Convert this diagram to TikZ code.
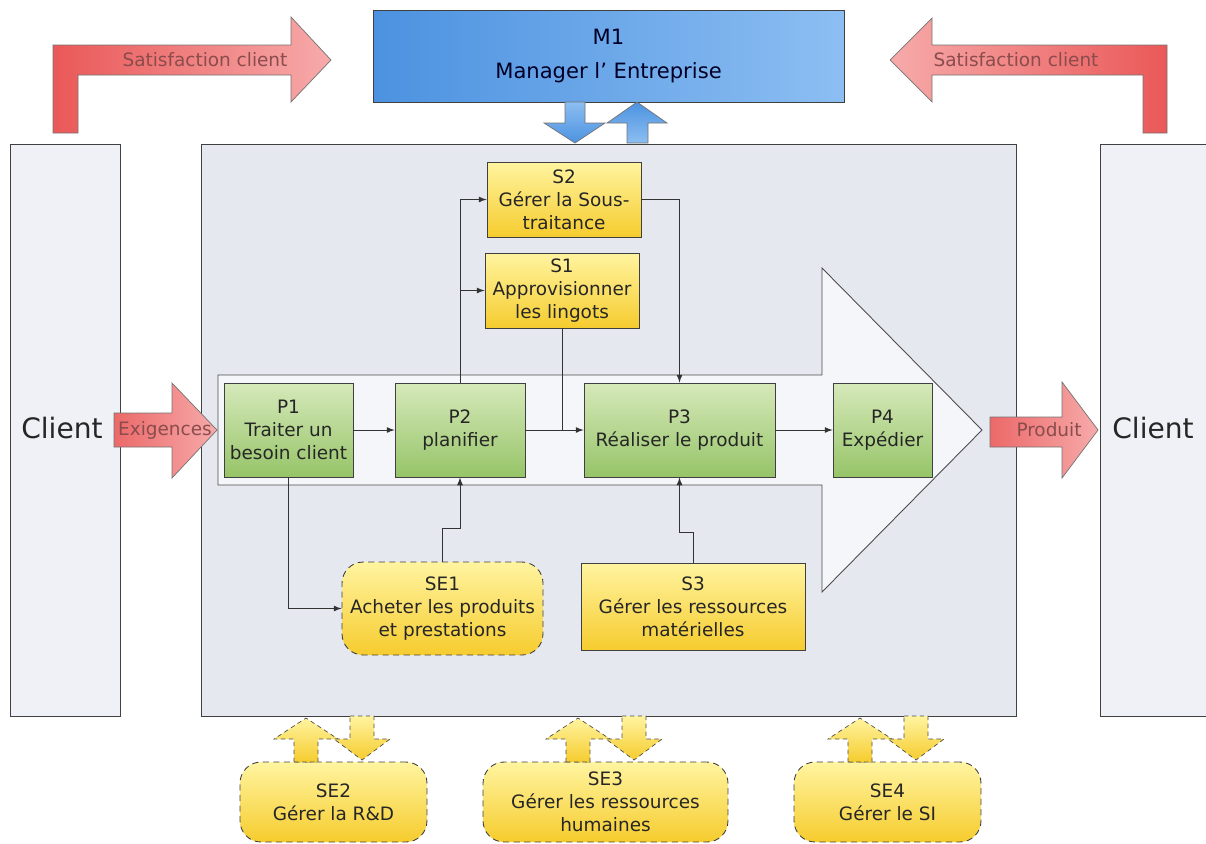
\documentclass[tikz,border=0pt]{standalone}
\usepackage{fontspec}
\setmainfont{DejaVu Sans}
\usepackage{tikz}
\usetikzlibrary{positioning}
\definecolor{framegray}{RGB}{230,232,239}
\definecolor{clientgray}{RGB}{240,241,246}
\definecolor{bandwhite}{RGB}{245,246,250}
\definecolor{greenT}{RGB}{214,233,186}
\definecolor{greenB}{RGB}{150,196,104}
\definecolor{yellowT}{RGB}{255,244,160}
\definecolor{yellowB}{RGB}{246,204,46}
\definecolor{blueD}{RGB}{76,146,224}
\definecolor{blueL}{RGB}{140,190,242}
\definecolor{redD}{RGB}{234,88,88}
\definecolor{redL}{RGB}{247,170,170}
\definecolor{redtext}{RGB}{138,76,76}

\begin{document}
\begin{tikzpicture}[x=0.02cm,y=-0.02cm,
box/.style={draw=black!75,line width=0.5pt,inner sep=1pt,align=center,text=black!85,
    font=\fontsize{10.5}{13}\selectfont},
pbox/.style={box,top color=greenT,bottom color=greenB,minimum height=1.88cm},
sbox/.style={box,top color=yellowT,bottom color=yellowB},
sebox/.style={sbox,dash pattern=on 3.5pt off 2.5pt,rounded corners=12pt},
link/.style={draw=black!80,line width=0.55pt},
flow/.style={link,->,>=latex},
fat/.style={draw=black!55,line width=0.4pt},
yarrow/.style={fat,draw=black!70,dash pattern=on 2.5pt off 2pt,top color=yellowT,bottom color=yellowB},
lbl/.style={text=redtext,font=\fontsize{10.5}{13}\selectfont},
column/.style={draw=black!75,line width=0.5pt,minimum width=2.2cm,minimum height=11.44cm}]
\useasboundingbox (0,0) rectangle (1206,843);

\node (clientl) [column,fill=clientgray] at (65,430) {};
\node (clientr) [column,fill=clientgray,minimum width=2.24cm] at (1156,430) {};
\node (frame) [column,fill=framegray,minimum width=16.32cm] at (609,430) {};
\node (cltl) [font=\fontsize{16}{19}\selectfont,text=black!85] at (62,428) {Client};
\node (cltr) [font=\fontsize{16}{19}\selectfont,text=black!85] at (1153,428) {Client};

\draw[draw=black!70,line width=0.5pt,fill=bandwhite] (218,375) -- (822,375) -- (822,268)
    -- (982,430) -- (822,592) -- (822,485) -- (218,485) -- cycle;

\node (m1) [box,left color=blueD,right color=blueL,minimum width=9.42cm,minimum height=1.84cm,
    font=\fontsize{12}{19}\selectfont,text=black!75!blue!60!black] at (608.5,56) {M1\\Manager l' Entreprise};

\draw[fat,top color=blueL,bottom color=blueD] (565,102) -- (585,102) -- (585,123) -- (605,123)
    -- (575,143) -- (544,123) -- (565,123) -- cycle;
\draw[fat,top color=blueD,bottom color=blueL] (627,143) -- (627,123) -- (607,123) -- (637,102)
    -- (667,123) -- (648,123) -- (648,143) -- cycle;

\draw[fat,left color=redD,right color=redL] (53,133) -- (53,45) -- (291,45) -- (291,17) -- (331,60)
    -- (291,102) -- (291,75) -- (78,75) -- (78,133) -- cycle;
\node (satl) [lbl] at (205,60) {Satisfaction client};
\draw[fat,left color=redL,right color=redD] (1167,133) -- (1167,45) -- (932,45) -- (932,18) -- (890,60)
    -- (932,102) -- (932,75) -- (1143,75) -- (1143,133) -- cycle;
\node (satr) [lbl] at (1016,60) {Satisfaction client};

\draw[fat,left color=redD!90,right color=redL] (114,413) -- (172,413) -- (172,383) -- (217,430)
    -- (172,478) -- (172,447) -- (114,447) -- cycle;
\node (exig) [lbl] at (165,430) {Exigences};
\draw[fat,left color=redD!90,right color=redL] (990,417) -- (1062,417) -- (1062,382) -- (1098,430)
    -- (1062,478) -- (1062,447) -- (990,447) -- cycle;
\node (prod) [lbl] at (1049,430) {Produit};

\node (p1) [pbox,minimum width=2.58cm] at (288.5,430) {P1\\Traiter un\\besoin client};
\node (p2) [pbox,minimum width=2.6cm] at (460,430) {P2\\planifier};
\node (p3) [pbox,minimum width=3.82cm] at (679.5,430) {P3\\Réaliser le produit};
\node (p4) [pbox,minimum width=1.98cm] at (882.5,430) {P4\\Expédier};
\node (s2) [sbox,minimum width=3.08cm,minimum height=1.5cm] at (564,199.5) {S2\\Gérer la Sous-\\traitance};
\node (s1) [sbox,minimum width=3.08cm,minimum height=1.5cm] at (562,290.5) {S1\\Approvisionner\\les lingots};
\node (s3) [sbox,minimum width=4.48cm,minimum height=1.74cm] at (693,606.5) {S3\\Gérer les ressources\\matérielles};
\node (se1) [sebox,minimum width=4.02cm,minimum height=1.86cm] at (442.5,608.5) {SE1\\Acheter les produits\\et prestations};
\node (se2) [sebox,minimum width=3.74cm,minimum height=1.6cm] at (333.5,802) {SE2\\Gérer la R\&D};
\node (se3) [sebox,minimum width=4.9cm,minimum height=1.6cm] at (605.5,802) {SE3\\Gérer les ressources\\humaines};
\node (se4) [sebox,minimum width=3.74cm,minimum height=1.6cm] at (887.5,802) {SE4\\Gérer le SI};

\foreach \c in {334,606,888} {
  \draw[yarrow] (\c-40,762) -- (\c-40,739) -- (\c-60,739) -- (\c-28,718) -- (\c+4,739)
      -- (\c-16,739) -- (\c-16,762) -- cycle;
  \draw[yarrow] (\c+16,716) -- (\c+40,716) -- (\c+40,739) -- (\c+56,739) -- (\c+28,760)
      -- (\c,739) -- (\c+16,739) -- cycle;
}

\coordinate (kse1) at (442.5,528);
\coordinate (ks3) at (693,532);
\draw[flow] (p1) -- (p2);
\draw[flow] (p2) -- (p3);
\draw[flow] (p3) -- (p4);
\draw[flow] (p2.north) |- (s2);
\draw[flow] (p2.north |- s1) -- (s1);
\draw[flow] (s2) -| (p3.north);
\draw[link] (s1.south) -- (s1.south |- p2.east);
\draw[flow] (p1.south) |- (se1);
\draw[flow] (se1.north) -- (kse1) -| (p2.south);
\draw[flow] (s3.north) -- (ks3) -| (p3.south);
\end{tikzpicture}
\end{document}
